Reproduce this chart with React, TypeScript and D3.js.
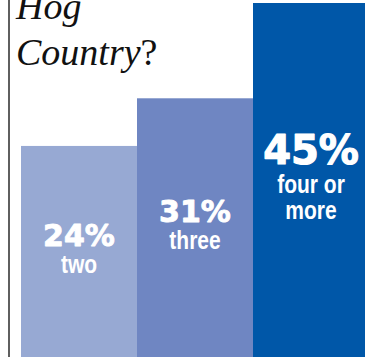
import React from "react";
import * as d3 from "d3";

// ---- data ----
const categories = ["two", "three", "four or more"];
const categoryLines = [["two"], ["three"], ["four or", "more"]];
const values = [24, 31, 45];
const titleWords = ["Hog", "Country"];
const titleEnd = "?";

// ---- styles ----
const palette = ["#97A9D3", "#6F86C2", "#0057A8"];
const W = 365;
const H = 357;

export default function App() {
  const x = d3.scaleBand<string>().domain(categories).range([21, 369]).padding(0);
  // the reference bars are not strictly proportional; a linear fit is used
  const y = d3.scaleLinear().domain([0, 45]).range([309.3, 3]);
  const bottom = H;
  const maxV = d3.max(values) as number;

  const pctFont = "'DejaVu Sans', sans-serif";
  const subFont = "'Liberation Sans', Arial, sans-serif";

  return (
    <svg
      width={W}
      height={H}
      viewBox={`0 0 ${W} ${H}`}
      style={{ position: "fixed", left: 0, top: 0, display: "block", background: "#fff" }}
    >
      {/* bars */}
      {categories.map((c, i) => (
        <rect
          key={c}
          x={x(c)}
          y={y(values[i])}
          width={x.bandwidth()}
          height={bottom - y(values[i])}
          fill={palette[i]}
        />
      ))}

      {/* labels */}
      {categories.map((c, i) => {
        const v = values[i];
        const big = v === maxV;
        const pSize = big ? 40 : 30;
        const capH = pSize * 0.729;
        const gap = big ? 29 : 27;
        const lineH = 26;
        const lines = categoryLines[i];
        const blockH = capH + gap + (lines.length - 1) * lineH;
        const mid = (y(v) + bottom) / 2 - 3;
        const pBase = mid - blockH / 2 + capH;
        const cx = (x(c) as number) + x.bandwidth() / 2;
        return (
          <g key={c} fill="#fff">
            <text
              x={cx}
              y={pBase}
              textAnchor="middle"
              fontFamily={pctFont}
              fontWeight="bold"
              fontSize={pSize}
              stroke="#fff"
              strokeWidth={big ? 1.2 : 0.9}
              strokeLinejoin="round"
            >
              {`${v}%`}
            </text>
            {lines.map((l, j) => (
              <g key={j} transform={`translate(${cx},${pBase + gap + j * lineH}) scale(0.84,1)`}>
                <text
                  x={0}
                  y={0}
                  textAnchor="middle"
                  fontFamily={subFont}
                  fontWeight="bold"
                  fontSize={25}
                >
                  {l}
                </text>
              </g>
            ))}
          </g>
        );
      })}

      {/* left rule */}
      <line x1={9} x2={9} y1={0} y2={H} stroke="#5f5f5f" strokeWidth={2} />

      {/* title */}
      <text
        x={16}
        y={19}
        fontFamily="'Liberation Serif', 'Times New Roman', serif"
        fontStyle="italic"
        fontSize={38}
        fill="#111"
      >
        {titleWords[0]}
      </text>
      <text
        x={16}
        y={65}
        fontFamily="'Liberation Serif', 'Times New Roman', serif"
        fontSize={38}
        fill="#111"
      >
        <tspan fontStyle="italic">{titleWords[1]}</tspan>
        <tspan>{titleEnd}</tspan>
      </text>
    </svg>
  );
}
